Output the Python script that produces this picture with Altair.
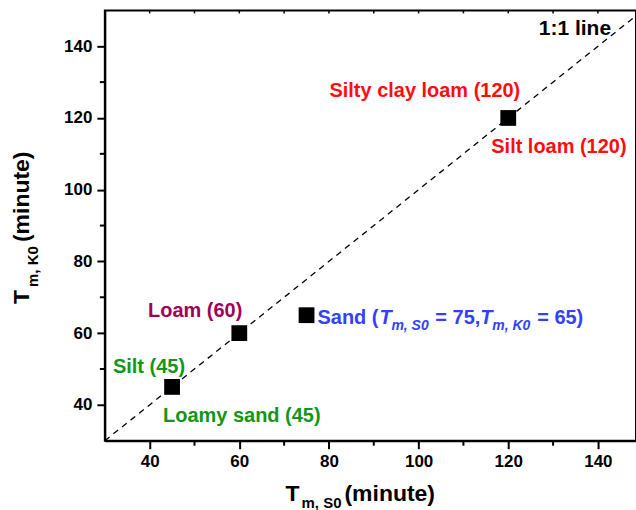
import altair as alt
import pandas as pd

# Soil textures with their times to maximum from the two models (minutes)
soil_names = ["Silt", "Loamy sand", "Loam", "Sand", "Silty clay loam", "Silt loam"]
t_s0 = [45, 45, 60, 75, 120, 120]
t_k0 = [45, 45, 60, 65, 120, 120]

# Distinct points drawn as squares
point_s0 = [45, 60, 75, 120]
point_k0 = [45, 60, 65, 120]

major_ticks = [40, 60, 80, 100, 120, 140]
minor_ticks = [50, 70, 90, 110, 130]
one_to_one = [30, 150]

W, H = 532, 431
FONT = "Liberation Sans"

xs = alt.Scale(domain=[30, 148.5], nice=False, zero=False)
ys = alt.Scale(domain=[30, 150], nice=False, zero=False)

axis_style = dict(
    values=major_ticks, title=None, grid=False,
    domainColor="black", domainWidth=2,
    tickColor="black", tickWidth=2, tickSize=8,
    labelFont=FONT, labelFontSize=17, labelFontWeight="bold",
    labelColor="black", labelPadding=5,
)
x_axis = alt.Axis(**axis_style)
y_axis = alt.Axis(**axis_style)


def X(field):
    return alt.X(field, type="quantitative", scale=xs, axis=x_axis)


def Y(field):
    return alt.Y(field, type="quantitative", scale=ys, axis=y_axis)


points = pd.DataFrame({"s0": point_s0, "k0": point_k0})
labels = pd.DataFrame({"name": soil_names, "s0": t_s0, "k0": t_k0})
labels["text"] = [f"{n} ({v})" for n, v in zip(soil_names, t_s0)]

# 1:1 reference line
line = alt.Chart(pd.DataFrame({"s0": one_to_one, "k0": one_to_one})).mark_line(
    color="black", strokeWidth=1.3, strokeDash=[6, 5], clip=True
).encode(x=X("s0"), y=Y("k0"))

squares = alt.Chart(points).mark_point(
    shape="square", filled=True, size=250, color="black", opacity=1
).encode(x=X("s0"), y=Y("k0"))

# Minor ticks on the bottom and left axes, short ticks along the top frame
minor_df = pd.DataFrame({"v": minor_ticks})
all_df = pd.DataFrame({"v": major_ticks + minor_ticks})
minor_x = alt.Chart(minor_df).mark_rule(color="black", strokeWidth=2).encode(
    x=X("v"), y=alt.value(H), y2=alt.value(H + 5))
minor_y = alt.Chart(minor_df).mark_rule(color="black", strokeWidth=2).encode(
    y=Y("v"), x=alt.value(0), x2=alt.value(-5))
top_ticks = alt.Chart(all_df).mark_rule(color="black", strokeWidth=1.5).encode(
    x=X("v"), y=alt.value(0), y2=alt.value(3))

# Point labels: (colour, align, dx, dy)
label_style = {
    "Silt": ("#12961a", "right", 13, -14),
    "Loamy sand": ("#12961a", "left", -9, 35),
    "Loam": ("#a0005a", "right", 3, -16),
    "Silty clay loam": ("#ff0d0d", "right", 12, -21),
    "Silt loam": ("#ff0d0d", "left", -17, 35),
}

layers = [line, minor_x, minor_y, top_ticks, squares]
for name, (color, align, dx, dy) in label_style.items():
    row = labels[labels["name"] == name]
    layers.append(
        alt.Chart(row).mark_text(
            font=FONT, fontSize=20, fontWeight="bold", color=color,
            align=align, baseline="alphabetic", dx=dx, dy=dy,
        ).encode(x=X("s0"), y=Y("k0"), text="text:N")
    )

# Sand label with italic symbols and subscripts
sand = labels[labels["name"] == "Sand"].iloc[0]
sand_row = pd.DataFrame({"s0": [sand["s0"]], "k0": [sand["k0"]]})
BLUE = "#3141ff"
sand_parts = [
    (f"{sand['name']} (", "normal", 20, 11, 9),
    ("T", "italic", 20, 73, 9),
    ("m, S0", "italic", 14, 85, 15),
    (f"= {sand['s0']},", "normal", 20, 129, 9),
    ("T", "italic", 20, 174, 9),
    ("m, K0", "italic", 14, 186, 15),
    (f"= {sand['k0']})", "normal", 20, 231, 9),
]
for txt, style, size, dx, dy in sand_parts:
    layers.append(
        alt.Chart(sand_row).mark_text(
            text=txt, font=FONT, fontSize=size, fontWeight="bold",
            fontStyle=style, color=BLUE, align="left",
            baseline="alphabetic", dx=dx, dy=dy,
        ).encode(x=X("s0"), y=Y("k0"))
    )


def text_piece(txt, x, y, size, angle=0, align="left"):
    return alt.Chart(pd.DataFrame({"t": [txt]})).mark_text(
        font=FONT, fontSize=size, fontWeight="bold", color="black",
        align=align, baseline="alphabetic", angle=angle,
    ).encode(text="t:N", x=alt.value(x), y=alt.value(y))


layers += [
    # reference line caption, top right
    text_piece("1:1 line", 507, 25, 21, align="right"),
    # x axis title: T_{m, S0} (minute)
    text_piece("T", 181, 491, 23),
    text_piece("m, S0", 197, 498, 15),
    text_piece("(minute)", 240, 491, 23),
    # y axis title: T_{m, K0} (minute)
    text_piece("T", -76, 294, 23, 270),
    text_piece("m, K0", -67, 277, 15, 270),
    text_piece("(minute)", -76, 232, 23, 270),
]

chart = alt.layer(*layers).properties(
    width=W, height=H,
    autosize=alt.AutoSizeParams(type="none"),
    padding={"left": 105, "top": 10, "right": 0, "bottom": 69},
    background="white",
).configure_view(stroke="black", strokeWidth=2)

chart.save("out.html", embed_options={"renderer": "svg", "actions": False})
